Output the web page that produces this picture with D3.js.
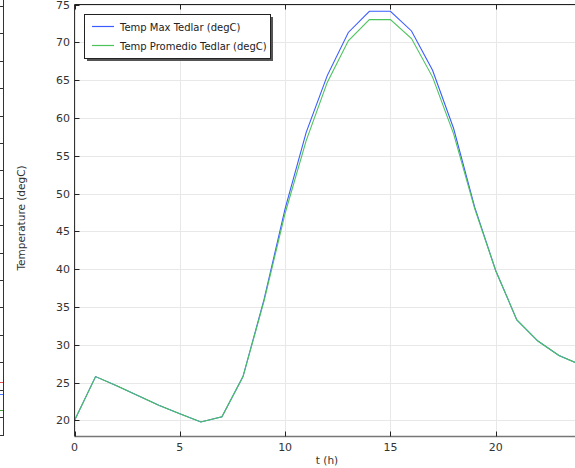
<!DOCTYPE html>
<html><head><meta charset="utf-8">
<script src="https://cdn.jsdelivr.net/npm/d3@7"></script>
<style>
html,body{margin:0;padding:0;background:#fff;overflow:hidden}
text{font-family:"DejaVu Sans",sans-serif;}
</style></head>
<body>
<svg id="c" width="575" height="468"></svg>
<script>
const hours = [0,1,2,3,4,5,6,7,8,9,10,11,12,13,14,15,16,17,18,19,20,21,22,23,24];
const tempMax = [20,25.8,24.6,23.3,22.0,20.9,19.8,20.5,25.8,36.0,48.0,58.1,65.6,71.3,74.1,74.1,71.5,66.3,58.6,48.2,39.8,33.3,30.5,28.6,27.4];
const tempProm = [20,25.8,24.6,23.3,22.0,20.9,19.8,20.5,25.8,35.8,47.4,57.0,64.7,70.2,73.0,73.0,70.5,65.4,57.9,48.0,39.8,33.3,30.5,28.6,27.4];
const xTicks = [0,5,10,15,20];
const yTicks = [20,25,30,35,40,45,50,55,60,65,70,75];
const seriesNames = ["Temp Max Tedlar (degC)","Temp Promedio Tedlar (degC)"];
const seriesColors = ["#3b5cff","#4cc45c"];

const svg = d3.select("#c");
const L = 74.5, T = 4.5, B = 436.5, R = 580;
const x = d3.scaleLinear().domain([0,24]).range([L, R]);
const y = d3.scaleLinear().domain([17.88,75]).range([B, T]);

// cropped neighbouring panel remnant on the far left
const g0 = svg.append("g");
g0.append("line").attr("x1",3.5).attr("x2",3.5).attr("y1",0).attr("y2",436).attr("stroke","#333");
g0.append("line").attr("x1",0).attr("x2",3.5).attr("y1",435.5).attr("y2",435.5).attr("stroke","#333");
d3.range(6,420,27.4).forEach(v=>{
  g0.append("line").attr("x1",0).attr("x2",3).attr("y1",Math.round(v)+0.5).attr("y2",Math.round(v)+0.5).attr("stroke","#333");
});
[["#e05050",382.5],["#5070ff",394.5],["#40a040",410.5]].forEach(d=>{
  g0.append("line").attr("x1",0).attr("x2",3).attr("y1",d[1]).attr("y2",d[1]).attr("stroke",d[0]);
});

// grid
const grid = svg.append("g");
xTicks.forEach(v=>{
  grid.append("line").attr("x1",Math.round(x(v))+0.5).attr("x2",Math.round(x(v))+0.5).attr("y1",T).attr("y2",B).attr("stroke","#e8e8e8").attr("stroke-width",1);
});
yTicks.forEach(v=>{
  grid.append("line").attr("x1",L).attr("x2",R).attr("y1",Math.round(y(v))+0.5).attr("y2",Math.round(y(v))+0.5).attr("stroke","#e8e8e8").attr("stroke-width",1);
});

// lines
const line = d3.line().x((d,i)=>x(hours[i])).y(d=>y(d));
svg.append("path").datum(tempMax).attr("d",line).attr("fill","none").attr("stroke",seriesColors[0]).attr("stroke-width",1.1);
svg.append("path").datum(tempProm).attr("d",line).attr("fill","none").attr("stroke",seriesColors[1]).attr("stroke-width",1.1);

// axes frame
svg.append("line").attr("x1",L).attr("x2",L).attr("y1",T).attr("y2",B).attr("stroke","#333");
svg.append("line").attr("x1",L).attr("x2",R).attr("y1",T).attr("y2",T).attr("stroke","#222");
svg.append("line").attr("x1",L).attr("x2",R).attr("y1",B).attr("y2",B).attr("stroke","#777").attr("stroke-width",1.6);

const ax = svg.append("g").attr("font-size",11).attr("fill","#333");
xTicks.forEach(v=>{
  const px = Math.round(x(v))+0.5;
  svg.append("line").attr("x1",px).attr("x2",px).attr("y1",B).attr("y2",B-5).attr("stroke","#222");
  svg.append("line").attr("x1",px).attr("x2",px).attr("y1",T).attr("y2",T+5).attr("stroke","#222");
  ax.append("text").attr("x",x(v)).attr("y",451).attr("text-anchor","middle").text(v);
});
yTicks.forEach(v=>{
  const py = Math.round(y(v))+0.5;
  svg.append("line").attr("x1",L).attr("x2",L+5).attr("y1",py).attr("y2",py).attr("stroke","#222");
  ax.append("text").attr("x",70).attr("y",y(v)+4).attr("text-anchor","end").text(v);
});
ax.append("text").attr("x",327).attr("y",464).attr("text-anchor","middle").attr("font-size",10.5).text("t (h)");
ax.append("text").attr("transform","translate(25,218) rotate(-90)").attr("text-anchor","middle").attr("font-size",10.5).text("Temperature (degC)");

// legend
const lg = svg.append("g");
lg.append("rect").attr("x",87).attr("y",17).attr("width",186).attr("height",44).attr("fill","#555");
lg.append("rect").attr("x",84.5).attr("y",14.5).attr("width",186).attr("height",44).attr("fill","#fff").attr("stroke","#222");
seriesNames.forEach((n,i)=>{
  const yy = 26.5 + i*19;
  lg.append("line").attr("x1",92).attr("x2",114).attr("y1",yy).attr("y2",yy).attr("stroke",seriesColors[i]).attr("stroke-width",1.2);
  lg.append("text").attr("x",120).attr("y",yy+4).attr("font-size",10).attr("fill","#222").text(n);
});
</script>
</body></html>
